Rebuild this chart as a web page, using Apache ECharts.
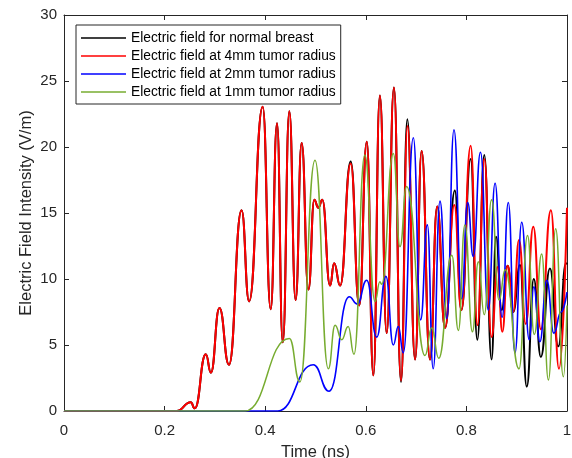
<!DOCTYPE html>
<html>
<head>
<meta charset="utf-8">
<script src="https://cdn.jsdelivr.net/npm/echarts@6/dist/echarts.min.js"></script>
<style>
html,body{margin:0;padding:0;background:#fff;}
#chart{width:572px;height:458px;}
</style>
</head>
<body>
<div id="chart"></div>
<script>
// Series names
const seriesNames = [
  'Electric field for normal breast',
  'Electric field at 4mm tumor radius',
  'Electric field at 2mm tumor radius',
  'Electric field at 1mm tumor radius'
];
// Tick values
const xTicks = [0, 0.2, 0.4, 0.6, 0.8, 1];
const yTicks = [0, 5, 10, 15, 20, 25, 30];

// Red: 4mm tumor radius (time ns, field V/m)
const redT = [0, 0.2, 0.224, 0.252, 0.260, 0.282, 0.292, 0.309, 0.328, 0.353, 0.368, 0.395, 0.411, 0.4235, 0.435, 0.448, 0.4605, 0.4725, 0.486, 0.4976, 0.5056, 0.5136, 0.529, 0.537, 0.549, 0.570, 0.587, 0.602, 0.615, 0.628, 0.6415, 0.656, 0.670, 0.683, 0.698, 0.711, 0.7276, 0.742, 0.7575, 0.776, 0.790, 0.8085, 0.822, 0.8356, 0.850, 0.862, 0.8714, 0.882, 0.893, 0.9046, 0.918, 0.933, 0.948, 0.968, 0.984, 1.0];
const redV = [0, 0, 0, 0.66, 0.2, 4.3, 2.9, 7.8, 3.5, 15.2, 8.3, 23.05, 7.7, 21.8, 5.2, 22.7, 8.4, 20.3, 9.2, 16.0, 15.4, 16.0, 9.5, 11.2, 9.5, 18.75, 8.0, 20.4, 2.7, 23.9, 5.9, 24.5, 2.3, 21.6, 3.9, 19.7, 3.9, 15.5, 6.3, 15.6, 7.65, 20.1, 6.5, 19.1, 5.6, 10.9, 6.0, 11.0, 7.5, 12.95, 6.6, 13.96, 6.2, 15.2, 3.2, 15.4];

// Black: normal breast
const blackT = [0, 0.2, 0.224, 0.252, 0.260, 0.282, 0.292, 0.309, 0.328, 0.353, 0.368, 0.395, 0.411, 0.4235, 0.435, 0.448, 0.4605, 0.4725, 0.486, 0.4976, 0.5056, 0.5136, 0.529, 0.537, 0.549, 0.570, 0.587, 0.602, 0.615, 0.628, 0.6415, 0.656, 0.670, 0.6825, 0.698, 0.711, 0.7276, 0.742, 0.7575, 0.777, 0.790, 0.8085, 0.8217, 0.8356, 0.850, 0.859, 0.870, 0.882, 0.893, 0.9066, 0.920, 0.934, 0.948, 0.966, 0.9827, 0.998, 1.0];
const blackV = [0, 0, 0, 0.66, 0.2, 4.3, 2.9, 7.8, 3.5, 15.2, 8.3, 23.05, 7.7, 21.8, 5.2, 22.7, 8.4, 20.3, 9.2, 16.0, 15.4, 16.0, 9.5, 11.2, 9.5, 18.9, 8.0, 20.4, 2.7, 23.9, 5.9, 24.5, 2.2, 22.1, 3.9, 19.7, 3.9, 15.5, 6.3, 16.7, 7.65, 19.1, 5.4, 19.4, 3.9, 13.2, 7.65, 11.0, 7.5, 11.06, 1.85, 10.0, 4.1, 10.8, 4.9, 11.2, 11.1];

// Blue: 2mm tumor radius
const blueT = [0, 0.2, 0.425, 0.4956, 0.527, 0.567, 0.583, 0.6018, 0.6217, 0.640, 0.6547, 0.6646, 0.6746, 0.6945, 0.709, 0.7223, 0.734, 0.7475, 0.761, 0.7753, 0.7906, 0.8025, 0.8137, 0.828, 0.8436, 0.857, 0.871, 0.8833, 0.8966, 0.910, 0.925, 0.934, 0.946, 0.9597, 0.974, 0.988, 1.0];
const blueV = [0, 0, 0, 3.5, 1.5, 8.66, 8.1, 9.9, 5.6, 10.2, 5.0, 6.4, 4.4, 20.7, 6.9, 14.1, 3.2, 15.9, 7.0, 21.3, 8.5, 15.8, 11.7, 19.6, 7.65, 17.25, 7.1, 15.8, 4.4, 14.3, 5.4, 9.4, 5.25, 9.9, 5.9, 7.5, 9.0];

// Green: 1mm tumor radius
const greenT = [0, 0.2, 0.36, 0.448, 0.469, 0.499, 0.5255, 0.539, 0.552, 0.565, 0.5765, 0.598, 0.6183, 0.628, 0.6315, 0.6547, 0.668, 0.681, 0.7177, 0.731, 0.745, 0.771, 0.784, 0.797, 0.812, 0.8237, 0.8356, 0.850, 0.865, 0.877, 0.9046, 0.9215, 0.935, 0.9497, 0.963, 0.9775, 0.9927, 1.0];
const greenV = [0, 0, 0, 5.5, 2.2, 19.0, 3.2, 6.5, 5.4, 6.4, 4.3, 19.4, 8.3, 9.8, 9.6, 19.5, 12.45, 17.0, 4.2, 6.3, 4.0, 11.8, 6.1, 14.1, 6.0, 11.3, 7.3, 16.0, 8.4, 10.7, 3.2, 13.3, 5.8, 11.9, 2.35, 13.8, 2.6, 8.0];

const colors = ['#000000', '#ff0000', '#0000ff', '#77ac30'];
const widths = [2, 2, 1.6, 1.5];
const tSets = [blackT, redT, blueT, greenT];
const vSets = [blackV, redV, blueV, greenV];

function pairs(ts, vs) { return ts.map((t, i) => [t, vs[i]]); }

const axisColor = '#262626';
const font = 'Liberation Sans, Arial, Helvetica, sans-serif';

const chart = echarts.init(document.getElementById('chart'), null, {renderer: 'canvas'});
const series = seriesNames.map((name, i) => ({
  name: name,
  type: 'line',
  xAxisIndex: 0,
  yAxisIndex: 0,
  data: pairs(tSets[i], vSets[i]),
  showSymbol: false,
  symbol: 'none',
  smooth: 0.5,
  smoothMonotone: 'x',
  lineStyle: {color: colors[i], width: widths[i]},
  itemStyle: {color: colors[i]},
  z: 2 + i
}));

const option = {
  animation: false,
  backgroundColor: '#ffffff',
  textStyle: {fontFamily: font},
  grid: {left: 64, right: 5, top: 15, bottom: 47, containLabel: false, outerBoundsMode: 'none'},
  legend: {
    show: true,
    data: seriesNames.map((n, i) => ({name: n, icon: 'rect', itemStyle: {color: colors[i]}})),
    orient: 'vertical',
    left: 76,
    top: 25,
    itemWidth: 45,
    itemHeight: 1.5,
    itemGap: 0,
    padding: [4, 5, 3, 5],
    backgroundColor: '#ffffff',
    borderColor: axisColor,
    borderWidth: 1,
    borderRadius: 0,
    textStyle: {fontFamily: font, fontSize: 13.8, lineHeight: 18, color: '#000000'},
    z: 20
  },
  xAxis: [{
    type: 'value', min: xTicks[0], max: xTicks[xTicks.length - 1], interval: 0.2,
    name: 'Time (ns)', nameLocation: 'middle', nameGap: 33,
    nameTextStyle: {fontFamily: font, fontSize: 16.5, color: axisColor},
    axisLine: {show: true, onZero: false, lineStyle: {color: axisColor, width: 1}},
    axisTick: {show: true, inside: true, length: 5, lineStyle: {color: axisColor}},
    axisLabel: {show: true, margin: 12, fontFamily: font, fontSize: 15, color: axisColor},
    splitLine: {show: false}
  }, {
    type: 'value', position: 'top', min: xTicks[0], max: xTicks[xTicks.length - 1], interval: 0.2,
    axisLine: {show: true, onZero: false, lineStyle: {color: axisColor, width: 1}},
    axisTick: {show: true, inside: true, length: 5, lineStyle: {color: axisColor}},
    axisLabel: {show: false},
    splitLine: {show: false}
  }],
  yAxis: [{
    type: 'value', min: yTicks[0], max: yTicks[yTicks.length - 1], interval: 5,
    name: 'Electric Field Intensity (V/m)', nameLocation: 'middle', nameGap: 29,
    nameMoveOverlap: false,
    nameTextStyle: {fontFamily: font, fontSize: 16.5, color: axisColor},
    axisLine: {show: true, onZero: false, lineStyle: {color: axisColor, width: 1}},
    axisTick: {show: true, inside: true, length: 5, lineStyle: {color: axisColor}},
    axisLabel: {show: true, margin: 7, fontFamily: font, fontSize: 15, color: axisColor},
    splitLine: {show: false}
  }, {
    type: 'value', position: 'right', min: yTicks[0], max: yTicks[yTicks.length - 1], interval: 5,
    axisLine: {show: true, onZero: false, lineStyle: {color: axisColor, width: 1}},
    axisTick: {show: true, inside: true, length: 5, lineStyle: {color: axisColor}},
    axisLabel: {show: false},
    splitLine: {show: false}
  }],
  series: series
};
chart.setOption(option);
</script>
</body>
</html>
